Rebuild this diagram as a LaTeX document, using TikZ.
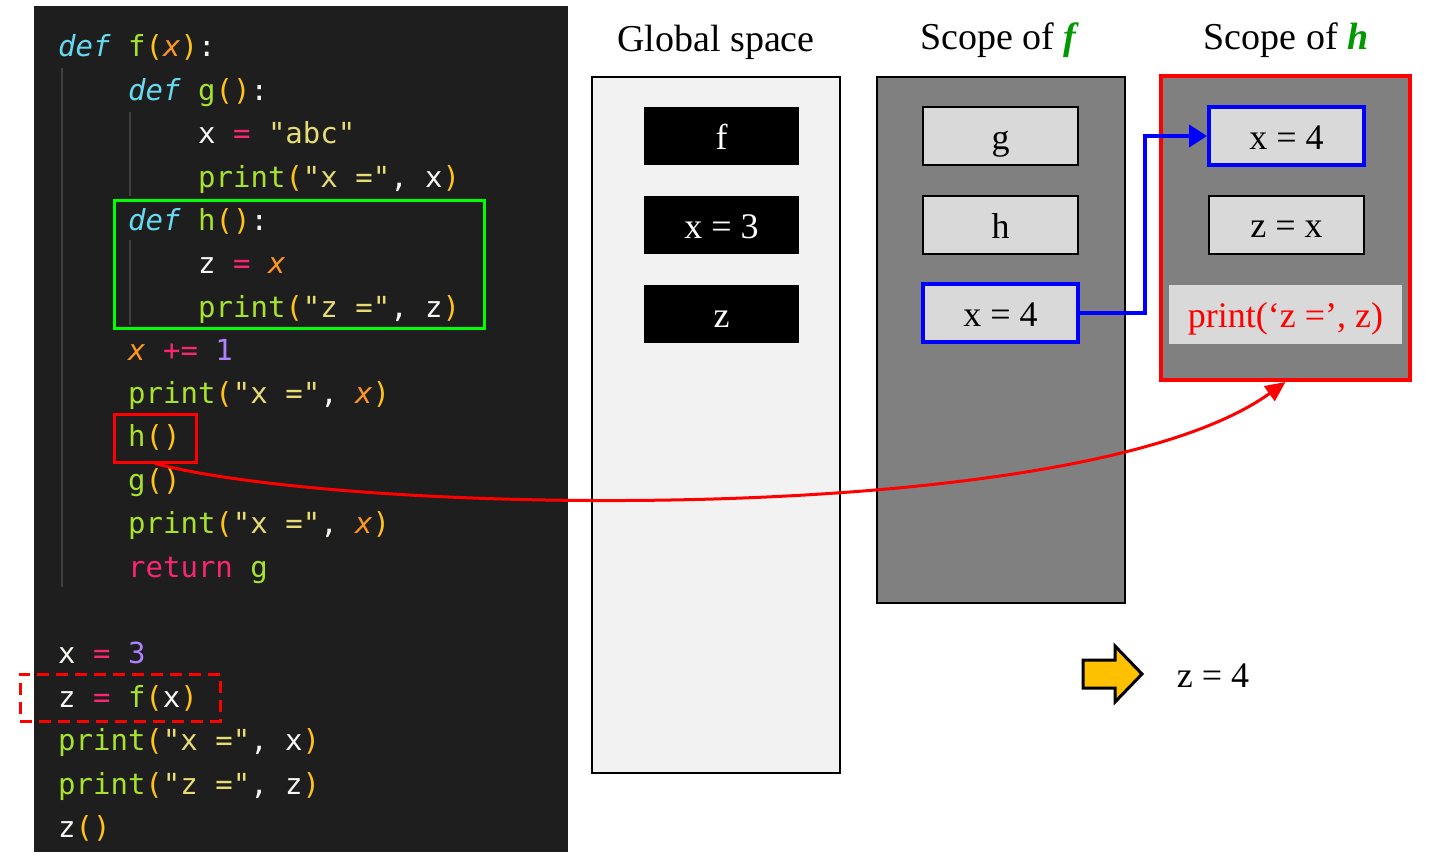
\documentclass[tikz,border=0pt]{standalone}
\usepackage{fontspec}
\setmainfont{Liberation Serif}
\setmonofont{DejaVu Sans Mono}
\usetikzlibrary{arrows.meta,calc}

\definecolor{codebg}{HTML}{1E1E1E}
\definecolor{codeguide}{HTML}{404040}
\definecolor{codetext}{HTML}{F8F8F2}
\definecolor{kwblue}{HTML}{66D9EF}
\definecolor{fngreen}{HTML}{A6E22E}
\definecolor{pargold}{HTML}{FFC21A}
\definecolor{prmorange}{HTML}{FD971F}
\definecolor{oppink}{HTML}{F92672}
\definecolor{stryellow}{HTML}{E6DB74}
\definecolor{numpurple}{HTML}{AE81FF}
\definecolor{panelgray}{HTML}{808080}
\definecolor{panellight}{HTML}{F2F2F2}
\definecolor{boxgray}{HTML}{D9D9D9}
\definecolor{titlegreen}{HTML}{009900}
\definecolor{hboxgreen}{HTML}{00FF00}
\definecolor{arrowyellow}{HTML}{FFC000}

% code colouring
\newcommand{\ckw}[1]{\textcolor{kwblue}{\textit{#1}}}
\newcommand{\cfn}[1]{\textcolor{fngreen}{#1}}
\newcommand{\cpar}[1]{\textcolor{pargold}{#1}}
\newcommand{\cprm}[1]{\textcolor{prmorange}{\textit{#1}}}
\newcommand{\cop}[1]{\textcolor{oppink}{#1}}
\newcommand{\cstr}[1]{\textcolor{stryellow}{#1}}
\newcommand{\cnum}[1]{\textcolor{numpurple}{#1}}

\tikzset{
  codeline/.style={anchor=base west, inner sep=0pt, text=codetext,
    font=\fontsize{29}{34}\selectfont\ttfamily},
  guide/.style={draw=codeguide, line width=2pt},
  title/.style={anchor=base, inner sep=0pt, font=\fontsize{38}{44}\selectfont},
  panel/.style={draw=black, line width=2pt, minimum width=248pt, inner sep=0pt},
  valtext/.style={inner sep=0pt, text height=30pt, text depth=4pt,
    font=\fontsize{36}{40}\selectfont},
  globbox/.style={valtext, fill=black, text=white, minimum width=155pt, minimum height=58pt},
  varbox/.style={valtext, draw=black, line width=2pt, fill=boxgray, minimum width=155pt, minimum height=58pt},
  curbox/.style={varbox, draw=blue, line width=4pt},
  codemark/.style={draw=red, line width=3pt, inner sep=0pt}
}

\begin{document}
\begin{tikzpicture}[x=1pt, y=-1pt, >=Stealth]
\useasboundingbox (0,0) rectangle (1434,862);

% code panel
\fill[codebg] (34,6) rectangle (568,852);
\draw[guide] (62,68) -- (62,587);
\draw[guide] (130,112) -- (130,196);
\draw[guide] (130,240) -- (130,325);

\node[codeline] (l1) at (58,56) {\ckw{def} \cfn{f}\cpar{(}\cprm{x}\cpar{)}:};
\node[codeline] (l2) at (128,100) {\ckw{def} \cfn{g}\cpar{()}:};
\node[codeline] (l3) at (198,143) {x \cop{=} \cstr{"abc"}};
\node[codeline] (l4) at (198,187) {\cfn{print}\cpar{(}\cstr{"x ="}, x\cpar{)}};
\node[codeline] (l5) at (128,230) {\ckw{def} \cfn{h}\cpar{()}:};
\node[codeline] (l6) at (198,273) {z \cop{=} \cprm{x}};
\node[codeline] (l7) at (198,317) {\cfn{print}\cpar{(}\cstr{"z ="}, z\cpar{)}};
\node[codeline] (l8) at (128,360) {\cprm{x} \cop{+=} \cnum{1}};
\node[codeline] (l9) at (128,403) {\cfn{print}\cpar{(}\cstr{"x ="}, \cprm{x}\cpar{)}};
\node[codeline] (l10) at (128,446) {\cfn{h}\cpar{()}};
\node[codeline] (l11) at (128,490) {\cfn{g}\cpar{()}};
\node[codeline] (l12) at (128,533) {\cfn{print}\cpar{(}\cstr{"x ="}, \cprm{x}\cpar{)}};
\node[codeline] (l13) at (128,577) {\cop{return} \cfn{g}};
\node[codeline] (l14) at (58,663) {x \cop{=} \cnum{3}};
\node[codeline] (l15) at (58,707) {z \cop{=} \cfn{f}\cpar{(}x\cpar{)}};
\node[codeline] (l16) at (58,750) {\cfn{print}\cpar{(}\cstr{"x ="}, x\cpar{)}};
\node[codeline] (l17) at (58,794) {\cfn{print}\cpar{(}\cstr{"z ="}, z\cpar{)}};
\node[codeline] (l18) at (58,837) {z\cpar{()}};

% marks in the code
\node[codemark, draw=hboxgreen, minimum width=370pt, minimum height=128pt] (hdef) at (299,264) {};
\node[codemark, minimum width=82pt, minimum height=48pt] (hcall) at (155,438) {};
\node[codemark, dash pattern=on 12pt off 7pt, minimum width=200pt, minimum height=47pt] (fcall) at (120,697.5) {};

% global space
\node[title] (gtitle) at (716,51) {Global space};
\node[panel, fill=panellight, minimum height=696pt] (gspace) at (716,425) {};
\node[globbox] (gf) at (721.5,136) {f};
\node[globbox] (gx) at (721.5,225) {x = 3};
\node[globbox] (gz) at (721.5,314) {z};

% scope of f
\node[title] (ftitle) at (1000,49) {Scope of \textcolor{titlegreen}{\textbf{\textit{f}}}};
\node[panel, fill=panelgray, minimum height=526pt] (fscope) at (1001,340) {};
\node[varbox] (fg) at (1000.5,136) {g};
\node[varbox] (fh) at (1000.5,225) {h};
\node[curbox] (fx) at (1000.5,313) {x = 4};

% scope of h
\node[title] (htitle) at (1286,49) {Scope of \textcolor{titlegreen}{\textbf{\textit{h}}}};
\node[panel, draw=red, line width=4pt, fill=panelgray, minimum width=249pt, minimum height=304pt] (hscope) at (1285.5,228) {};
\node[curbox] (hx) at (1286.5,136) {x = 4};
\node[varbox] (hz) at (1286.5,224.5) {z = x};
\node[valtext, fill=boxgray, text=red, minimum width=233pt, minimum height=59pt] (hprint) at (1285.5,314.5) {print(‘z =’, z)};

% connectors
\draw[->, blue, line width=4pt, arrows={-Triangle[length=18pt, width=22pt]}]
  (fx.east) -- ++(65,0) |- (hx.west);
\draw[red, line width=3pt, arrows={-Triangle[length=20pt, width=18pt]}]
  (hcall.south) .. controls (350,515) and (1080,530) .. (hscope.south);

% result
\coordinate (yarrow) at (1083,674);
\draw[fill=arrowyellow, line width=3pt, line join=miter] (yarrow) -- ++(0,-14) -- ++(32,0) -- ++(0,-14)
  -- ++(27,28) -- ++(-27,28) -- ++(0,-14) -- ++(-32,0) -- cycle;
\node[valtext] (result) at (1213,674) {z = 4};

\end{tikzpicture}
\end{document}
